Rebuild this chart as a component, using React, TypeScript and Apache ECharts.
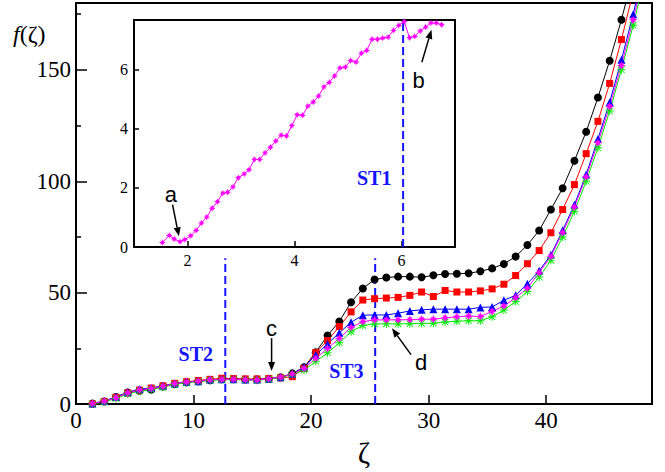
import React, { useEffect, useRef } from 'react';
import * as echarts from 'echarts';

// ---- main chart data ----
const zeta = [1.4, 2.4, 3.4, 4.4, 5.4, 6.4, 7.4, 8.4, 9.4, 10.4, 11.4, 12.4, 13.4, 14.4, 15.4, 16.4, 17.4, 18.4,
  19.4, 20.4, 21.4, 22.4, 23.4, 24.4, 25.4, 26.4, 27.4, 28.4, 29.4, 30.4, 31.4, 32.4, 33.4, 34.4, 35.4, 36.4,
  37.4, 38.4, 39.4, 40.4, 41.4, 42.4, 43.4, 44.4, 45.4, 46.4, 47.4, 48.4];

const blackVals = [0.2, 1.2, 3.2, 5.2, 6.0, 6.5, 7.9, 9.0, 9.8, 10.2, 10.7, 11.2, 11.3, 11.0, 11.0, 11.4, 12.0, 13.8,
  16.5, 23.3, 30.8, 37.1, 45.7, 51.9, 55.9, 56.8, 57.2, 57.2, 56.9, 57.8, 58.4, 58.5, 58.7, 59.6, 60.9, 62.9,
  66.2, 71.4, 77.9, 87.3, 96.9, 109.2, 122.2, 137.6, 154.1, 172.5, 193, 216];
const redVals = [0.1, 1.2, 3.0, 5.0, 6.3, 7.2, 8.2, 9.3, 10.0, 10.6, 11.1, 11.6, 11.4, 11.3, 11.3, 11.5, 11.8, 12.3,
  16.0, 23.1, 28.5, 34.8, 41.4, 46.7, 47.3, 47.6, 47.9, 48.8, 50.3, 48.3, 51.0, 50.3, 50.3, 50.8, 51.7, 53.8,
  57.7, 63.0, 68.9, 76.9, 87.3, 98.5, 112.4, 126.9, 143.9, 163.6, 185, 208];
const blueVals = [0.3, 1.4, 3.2, 5.3, 6.8, 7.2, 8.2, 9.2, 10.0, 10.3, 11.0, 11.1, 11.2, 11.0, 11.0, 11.4, 12.0, 13.6,
  16.5, 22.0, 27.0, 32.0, 36.7, 39.9, 40.0, 40.0, 40.8, 41.8, 42.3, 42.6, 42.6, 42.6, 42.6, 43.4, 43.6, 46.6,
  48.8, 54.0, 59.8, 67.0, 78.0, 89.5, 103.0, 119.0, 135.5, 154.5, 175.0, 198];
const greenVals = [0.0, 1.0, 2.5, 4.5, 5.9, 6.6, 7.6, 8.8, 9.6, 10.1, 10.7, 10.9, 11.0, 10.8, 10.7, 11.2, 11.9, 13.4,
  15.2, 19.2, 23.0, 27.5, 32.5, 35.3, 36.0, 36.0, 36.0, 36.1, 36.2, 36.3, 36.8, 37.2, 37.4, 37.4, 39.2, 42.2,
  46.0, 50.5, 57.0, 64.5, 75.0, 86.5, 100.0, 115.0, 131.5, 150.0, 170.0, 192];
const magentaVals = [0.3, 1.3, 2.9, 5.0, 6.3, 7.0, 8.0, 9.2, 9.9, 10.3, 10.9, 11.1, 11.1, 10.9, 10.8, 11.4, 12.1, 13.6,
  16.0, 20.5, 25.0, 29.5, 34.4, 37.0, 37.8, 37.8, 37.8, 37.9, 38.1, 38.1, 38.7, 39.2, 39.5, 39.3, 41.6, 44.0,
  47.8, 52.0, 59.0, 66.3, 77.0, 88.5, 102.0, 117.3, 133.6, 152.0, 172.5, 195];

// ---- inset data ----
const insetX = [1.53, 1.66, 1.75, 1.86, 1.95, 2.06, 2.16, 2.26, 2.36, 2.46, 2.56, 2.66, 2.75, 2.85, 2.95, 3.06,
  3.15, 3.25, 3.35, 3.45, 3.55, 3.65, 3.75, 3.85, 3.95, 4.05, 4.15, 4.25, 4.35, 4.45, 4.55, 4.65, 4.75, 4.85,
  4.95, 5.05, 5.15, 5.25, 5.35, 5.45, 5.55, 5.65, 5.75, 5.85, 5.95, 6.05, 6.15, 6.25, 6.35, 6.45, 6.55, 6.65, 6.75];
const insetY = [0.15, 0.39, 0.27, 0.18, 0.25, 0.38, 0.56, 0.81, 1.01, 1.31, 1.53, 1.82, 1.85, 2.03, 2.34, 2.47,
  2.61, 2.96, 2.96, 3.18, 3.37, 3.58, 3.78, 3.75, 4.10, 4.47, 4.45, 4.76, 4.90, 5.10, 5.41, 5.56, 5.78, 6.05,
  6.08, 6.30, 6.25, 6.55, 6.64, 7.02, 7.02, 7.06, 7.09, 7.32, 7.49, 7.62, 7.07, 7.12, 7.30, 7.43, 7.57, 7.57, 7.51];

// ---- axes ticks ----
const mainXTicks = [0, 10, 20, 30, 40];
const mainYTicks = [0, 50, 100, 150];
const mainYMinor = [25, 75, 125, 175];
const insetXTicks = [2, 4, 6];
const insetYTicks = [0, 2, 4, 6];

// ---- vertical markers ----
const st2X = 12.7;
const st3X = 25.45;
const stTop = 65.5;
const st1X = 6.03;
const insetYMax = 7.67;

const BLUE = '#1414ff';
const SERIF = '"Liberation Serif", "Times New Roman", Times, serif';
const SANS = '"Liberation Sans", Arial, Helvetica, sans-serif';

const asterisk = 'path://M0 4.4H10V5.6H0Z M4.4 0H5.6V10H4.4Z M0.6 1.4L1.4 0.6L9.4 8.6L8.6 9.4Z M8.6 0.6L9.4 1.4L1.4 9.4L0.6 8.6Z';
const starBlob = 'path://M5 0L6 3L7.9 2.1L7 4L10 5L7 6L7.9 7.9L6 7L5 10L4 7L2.1 7.9L3 6L0 5L3 4L2.1 2.1L4 3Z';

function mk(xs: number[], ys: number[]) {
  return xs.map((x, i) => [x, ys[i]]);
}

export default function App() {
  const ref = useRef<HTMLDivElement>(null);
  useEffect(() => {
    const chart = echarts.init(ref.current!, null, { renderer: 'svg' });
    const lineSeries = (name: string, vals: number[], color: string, symbol: string, size: number) => ({
      name, type: 'line', xAxisIndex: 0, yAxisIndex: 0, data: mk(zeta, vals), symbol, symbolSize: size,
      lineStyle: { color, width: 1 }, itemStyle: { color }, clip: true, silent: true,
    });
    chart.setOption({
      animation: false,
      backgroundColor: '#fff',
      grid: [
        { left: 76, top: 3, width: 576, height: 406, show: true, borderColor: '#000', borderWidth: 2, backgroundColor: 'transparent' },
        { left: 134, top: 20, width: 321, height: 227, show: true, borderColor: '#000', borderWidth: 2, backgroundColor: '#fff' },
      ],
      xAxis: [
        {
          gridIndex: 0, type: 'value', min: 0, max: 49, interval: 10,
          axisLine: { lineStyle: { color: '#000', width: 2 } },
          axisTick: { inside: true, length: 9, customValues: mainXTicks, lineStyle: { color: '#000', width: 1.5 } },
          axisLabel: { customValues: mainXTicks, fontSize: 23, fontFamily: SERIF, color: '#000', margin: 5 },
          splitLine: { show: false },
          name: 'ζ', nameLocation: 'middle', nameGap: 24,
          nameTextStyle: { fontSize: 30, fontFamily: SERIF, color: '#000' },
        },
        {
          gridIndex: 1, type: 'value', min: 1, max: 7,
          axisLine: { lineStyle: { color: '#000', width: 2 } },
          axisTick: { inside: true, length: 6, customValues: insetXTicks, lineStyle: { color: '#000', width: 1.5 } },
          axisLabel: { customValues: insetXTicks, fontSize: 16, fontFamily: SERIF, color: '#000', margin: 5 },
          splitLine: { show: false },
        },
      ],
      yAxis: [
        {
          gridIndex: 0, type: 'value', min: 0, max: 180, interval: 50, position: 'left',
          axisLine: { lineStyle: { color: '#000', width: 2 } },
          axisTick: { inside: true, length: 11, customValues: mainYTicks, lineStyle: { color: '#000', width: 1.5 } },
          axisLabel: { customValues: mainYTicks, fontSize: 23, fontFamily: SERIF, color: '#000', margin: 5 },
          splitLine: { show: false },
        },
        {
          gridIndex: 0, type: 'value', min: 0, max: 180, interval: 25, position: 'left',
          axisLine: { show: false },
          axisTick: { inside: true, length: 5, customValues: mainYMinor, lineStyle: { color: '#000', width: 1.5 } },
          axisLabel: { show: false },
          splitLine: { show: false },
        },
        {
          gridIndex: 1, type: 'value', min: 0, max: insetYMax,
          axisLine: { lineStyle: { color: '#000', width: 2 } },
          axisTick: { inside: true, length: 5, customValues: insetYTicks, lineStyle: { color: '#000', width: 1.5 } },
          axisLabel: { customValues: insetYTicks, fontSize: 16, fontFamily: SERIF, color: '#000', margin: 6 },
          splitLine: { show: false },
        },
      ],
      series: [
        {
          type: 'line', xAxisIndex: 0, yAxisIndex: 0, data: [[st2X, 0], [st2X, stTop]], symbol: 'none',
          lineStyle: { color: BLUE, width: 2, type: [8, 4] }, silent: true,
        },
        {
          type: 'line', xAxisIndex: 0, yAxisIndex: 0, data: [[st3X, 0], [st3X, stTop]], symbol: 'none',
          lineStyle: { color: BLUE, width: 2, type: [8, 4] }, silent: true,
        },
        lineSeries('black', blackVals, '#000000', 'circle', 8),
        lineSeries('red', redVals, '#ff0000', 'rect', 7),
        lineSeries('blue', blueVals, '#0000ff', 'triangle', 8),
        lineSeries('green', greenVals, '#00ee00', asterisk, 8),
        lineSeries('magenta', magentaVals, '#ff00ff', starBlob, 9),
        {
          type: 'line', xAxisIndex: 1, yAxisIndex: 2, data: [[st1X, 0], [st1X, insetYMax]], symbol: 'none',
          lineStyle: { color: BLUE, width: 2, type: [8, 4] }, silent: true,
        },
        {
          type: 'line', xAxisIndex: 1, yAxisIndex: 2, data: mk(insetX, insetY), symbol: starBlob, symbolSize: 7,
          lineStyle: { color: '#ff00ff', width: 1 }, itemStyle: { color: '#ff00ff' }, silent: true,
        },
      ],
    });

    const main = (p: number[]) => chart.convertToPixel({ xAxisIndex: 0, yAxisIndex: 0 }, p) as number[];
    const ins = (p: number[]) => chart.convertToPixel({ xAxisIndex: 1, yAxisIndex: 2 }, p) as number[];

    const arrow = (a: number[], b: number[]) => {
      const ang = Math.atan2(b[1] - a[1], b[0] - a[0]);
      const L = 9, W = 3.5;
      const bx = b[0] - L * Math.cos(ang), by = b[1] - L * Math.sin(ang);
      const nx = -Math.sin(ang) * W, ny = Math.cos(ang) * W;
      return [
        { type: 'line', shape: { x1: a[0], y1: a[1], x2: bx, y2: by }, style: { stroke: '#000', lineWidth: 1.5 }, z: 100 },
        { type: 'polygon', shape: { points: [[b[0], b[1]], [bx + nx, by + ny], [bx - nx, by - ny]] }, style: { fill: '#000' }, z: 100 },
      ];
    };
    const txt = (p: number[], text: string, size: number, family: string, weight: string, fill: string) => ({
      type: 'text', x: p[0], y: p[1], z: 100,
      style: { text, fontSize: size, fontFamily: family, fontWeight: weight, fill, align: 'center', verticalAlign: 'middle' },
    });

    chart.setOption({
      graphic: [
        {
          type: 'text', x: 13, y: 22, z: 100,
          style: {
            text: '{i|f}(ζ)', fontSize: 24, fontFamily: SERIF, fill: '#000',
            rich: { i: { fontStyle: 'italic', fontSize: 24, fontFamily: SERIF } },
          },
        },
        txt(ins([1.69, 1.76]), 'a', 22, SANS, 'normal', '#000'),
        ...arrow(ins([1.72, 1.43]), ins([1.84, 0.36])),
        txt(ins([6.32, 5.63]), 'b', 22, SANS, 'normal', '#000'),
        ...arrow(ins([6.38, 6.24]), ins([6.56, 7.34])),
        txt(main([16.64, 33.9]), 'c', 22, SANS, 'normal', '#000'),
        ...arrow(main([16.64, 29.6]), main([16.64, 14.8])),
        txt(main([29.37, 18.8]), 'd', 22, SANS, 'normal', '#000'),
        ...arrow(main([28.5, 22.2]), main([26.88, 34.0])),
        txt(ins([5.49, 2.32]), 'ST1', 20, SERIF, 'bold', BLUE),
        txt(main([10.19, 22.3]), 'ST2', 20, SERIF, 'bold', BLUE),
        txt(main([23.0, 14.8]), 'ST3', 20, SERIF, 'bold', BLUE),
      ],
    });
    return () => chart.dispose();
  }, []);
  return <div ref={ref} style={{ position: 'fixed', left: 0, top: 0, width: 665, height: 472, background: '#fff' }} />;
}
